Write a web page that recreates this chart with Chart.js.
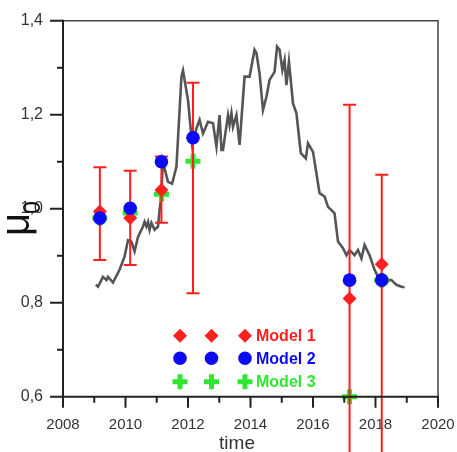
<!DOCTYPE html>
<html><head><meta charset="utf-8">
<script src="https://cdn.jsdelivr.net/npm/chart.js@4/dist/chart.umd.min.js"></script>
<style>html,body{margin:0;padding:0;background:#fff}canvas{display:block}</style>
</head><body>
<canvas id="c" width="457" height="452"></canvas>
<script>
// ---- data ----
const lineX = [2009.05,2009.12,2009.28,2009.39,2009.44,2009.60,2009.81,2009.97,2010.08,2010.19,2010.29,2010.40,2010.56,2010.61,2010.67,2010.72,2010.77,2010.83,2010.93,2011.04,2011.09,2011.15,2011.19,2011.36,2011.49,2011.63,2011.79,2011.84,2012.00,2012.14,2012.27,2012.37,2012.48,2012.64,2012.80,2012.91,2013.01,2013.07,2013.12,2013.28,2013.33,2013.39,2013.44,2013.55,2013.65,2013.81,2013.97,2014.13,2014.19,2014.29,2014.40,2014.51,2014.61,2014.77,2014.85,2014.93,2015.02,2015.09,2015.15,2015.23,2015.36,2015.47,2015.61,2015.77,2015.84,2016.00,2016.21,2016.37,2016.48,2016.59,2016.69,2016.80,2016.96,2017.07,2017.17,2017.33,2017.44,2017.55,2017.65,2017.81,2017.97,2018.08,2018.19,2018.40,2018.51,2018.67,2018.83,2018.93];
const lineY = [0.838,0.834,0.855,0.848,0.855,0.843,0.870,0.898,0.933,0.930,0.909,0.940,0.962,0.972,0.962,0.972,0.955,0.970,0.955,0.962,0.997,1.029,1.101,1.057,1.053,1.089,1.281,1.294,1.231,1.132,1.171,1.189,1.160,1.185,1.182,1.132,1.199,1.125,1.125,1.199,1.178,1.203,1.174,1.199,1.136,1.281,1.281,1.338,1.331,1.288,1.210,1.238,1.274,1.291,1.345,1.338,1.295,1.316,1.263,1.313,1.224,1.203,1.118,1.107,1.139,1.121,1.033,1.026,1.004,0.997,0.990,0.930,0.916,0.901,0.912,0.901,0.912,0.894,0.923,0.901,0.870,0.855,0.841,0.848,0.848,0.838,0.834,0.833];

const modelX  = [2009.18, 2010.15, 2011.15, 2012.16, 2017.17, 2018.2];
const model1  = [0.994, 0.980, 1.040, 1.151, 0.809, 0.882];
const model2  = [0.980, 1.001, 1.100, 1.151, 0.848, 0.848];
const model3  = [0.980, 0.991, 1.031, 1.101, 0.600, 0.848];
const errLow  = [0.891, 0.880, 0.970, 0.820, 0.400, 0.400];
const errHigh = [1.088, 1.081, 1.111, 1.268, 1.221, 1.072];

const xTickLabels = ['2008','2010','2012','2014','2016','2018','2020'];
const yTickLabels = ['0,6','0,8','1,0','1,2','1,4'];
const seriesNames = ['Model 1','Model 2','Model 3'];
const xTitle = 'time';

// ---- styles ----
const RED = '#ff1f1f', BLUE = '#0a0af5', GREEN = '#33e533', GREY = '#555555';
const FONT = "'Liberation Sans', Arial, sans-serif";

const pts = ys => modelX.map((x,i)=>({x, y: ys[i]}));

function drawMarker(ctx, kind, x, y) {
  ctx.save();
  if (kind === 'diamond') {
    const r = 7;
    ctx.fillStyle = RED;
    ctx.beginPath();
    ctx.moveTo(x, y - r); ctx.lineTo(x + r, y); ctx.lineTo(x, y + r); ctx.lineTo(x - r, y);
    ctx.closePath(); ctx.fill();
  } else if (kind === 'circle') {
    ctx.fillStyle = BLUE;
    ctx.beginPath(); ctx.arc(x, y, 6.8, 0, Math.PI*2); ctx.fill();
  } else {
    ctx.strokeStyle = GREEN; ctx.lineWidth = 5;
    ctx.beginPath();
    ctx.moveTo(x - 7.5, y); ctx.lineTo(x + 7.5, y);
    ctx.moveTo(x, y - 7.5); ctx.lineTo(x, y + 7.5);
    ctx.stroke();
  }
  ctx.restore();
}

const decorPlugin = {
  id: 'decor',
  afterDatasetDraw(chart, args) {
    if (args.meta.label !== seriesNames[2]) return;
    // error bars
    const ctx = chart.ctx, xs = chart.scales.x, ys = chart.scales.y;
    ctx.save();
    ctx.strokeStyle = RED; ctx.lineWidth = 2;
    modelX.forEach((v, i) => {
      const px = xs.getPixelForValue(v);
      const y1 = ys.getPixelForValue(errHigh[i]);
      const y0 = ys.getPixelForValue(errLow[i]);
      ctx.beginPath();
      ctx.moveTo(px, y0); ctx.lineTo(px, y1);
      ctx.moveTo(px - 6.5, y1); ctx.lineTo(px + 6.5, y1);
      ctx.moveTo(px - 6.5, y0); ctx.lineTo(px + 6.5, y0);
      ctx.stroke();
    });
    ctx.restore();
  },
  afterDraw(chart) {
    const ctx = chart.ctx, a = chart.chartArea, xs = chart.scales.x, ys = chart.scales.y;
    ctx.save();
    // frame top/right
    ctx.strokeStyle = '#444'; ctx.lineWidth = 1.5;
    ctx.beginPath();
    ctx.moveTo(a.left, a.top); ctx.lineTo(a.right, a.top); ctx.lineTo(a.right, a.bottom);
    ctx.stroke();
    // axes
    ctx.strokeStyle = '#222'; ctx.lineWidth = 2;
    ctx.beginPath();
    ctx.moveTo(a.left, a.top - 1); ctx.lineTo(a.left, a.bottom); ctx.lineTo(a.right + 1, a.bottom);
    ctx.stroke();
    // ticks
    ctx.beginPath();
    xs.ticks.forEach(t => {
      const px = xs.getPixelForValue(t.value);
      const major = Math.round(t.value) % 2 === 0;
      ctx.moveTo(px, a.bottom); ctx.lineTo(px, a.bottom + (major ? 11 : 6));
    });
    ys.ticks.forEach(t => {
      const py = ys.getPixelForValue(t.value);
      const major = Math.round(t.value * 10) % 2 === 0;
      ctx.moveTo(a.left, py); ctx.lineTo(a.left - (major ? 13 : 6), py);
    });
    ctx.stroke();
    // x title
    ctx.fillStyle = '#333';
    ctx.font = '19px ' + FONT;
    ctx.textAlign = 'center'; ctx.textBaseline = 'alphabetic';
    ctx.fillText(xTitle, a.left + 174, 449);
    // y title mu_0
    ctx.save();
    ctx.translate(29, 236);
    ctx.rotate(-Math.PI / 2);
    ctx.fillStyle = '#111';
    ctx.textAlign = 'left';
    ctx.font = '40px ' + FONT;
    ctx.fillText('μ', 0, 0);
    ctx.font = '23px ' + FONT;
    ctx.fillText('0', 22, 11);
    ctx.restore();
    // legend
    const kinds = ['diamond', 'circle', 'cross'];
    const cols = [RED, BLUE, GREEN];
    const rowY = [a.top + 315, a.top + 337.5, a.top + 361];
    const colX = [a.left + 117, a.left + 148.5, a.left + 182];
    ctx.font = 'bold 16px ' + FONT;
    ctx.textAlign = 'left'; ctx.textBaseline = 'middle';
    kinds.forEach((k, i) => {
      colX.forEach(cx => drawMarker(ctx, k, cx, rowY[i]));
      ctx.fillStyle = cols[i];
      ctx.fillText(seriesNames[i], a.left + 193, rowY[i] + 1);
    });
    ctx.restore();
  }
};

new Chart(document.getElementById('c'), {
  type: 'scatter',
  data: {
    datasets: [
      { label: seriesNames[1], data: pts(model2), order: 0, pointStyle: 'circle', pointRadius: 6.8,
        backgroundColor: BLUE, pointBackgroundColor: BLUE, pointBorderWidth: 0, borderWidth: 0, clip: false },
      { label: seriesNames[0], data: pts(model1), order: 1, pointStyle: 'rectRot', pointRadius: 7,
        backgroundColor: RED, pointBackgroundColor: RED, pointBorderWidth: 0, borderWidth: 0, clip: false },
      { label: seriesNames[2], data: pts(model3), order: 2, pointStyle: 'cross', pointRadius: 7.5,
        borderColor: GREEN, pointBorderColor: GREEN, pointBorderWidth: 5, borderWidth: 5,
        backgroundColor: GREEN, clip: false },
      { label: 'data', type: 'line', data: lineX.map((x,i)=>({x, y: lineY[i]})), order: 3,
        showLine: true, pointRadius: 0, borderColor: GREY, borderWidth: 2.6, tension: 0, fill: false }
    ]
  },
  options: {
    responsive: false, animation: false,
    layout: { padding: { top: 20.7, right: 19, left: 0, bottom: 0 } },
    plugins: { legend: { display: false }, tooltip: { enabled: false } },
    scales: {
      x: {
        type: 'linear', min: 2008, max: 2020,
        afterFit: s => { s.height = 55.3; s.paddingLeft = 0; s.paddingRight = 0; },
        grid: { display: false, drawTicks: false },
        border: { display: false },
        ticks: {
          stepSize: 1, autoSkip: false, maxRotation: 0, padding: 19, color: '#333',
          font: { family: FONT, size: 15 },
          callback: v => { const i = xTickLabels.indexOf(String(Math.round(v))); return i >= 0 ? xTickLabels[i] : ''; }
        }
      },
      y: {
        min: 0.6, max: 1.4,
        afterFit: s => { s.width = 63; s.paddingTop = 0; s.paddingBottom = 0; },
        grid: { display: false, drawTicks: false },
        border: { display: false },
        ticks: {
          stepSize: 0.1, autoSkip: false, padding: 20, color: '#333',
          font: { family: FONT, size: 16 },
          callback: v => { const k = Math.round(v * 10); return k % 2 === 0 ? yTickLabels[(k - 6) / 2] : ''; }
        }
      }
    }
  },
  plugins: [decorPlugin]
});
</script>
</body></html>
